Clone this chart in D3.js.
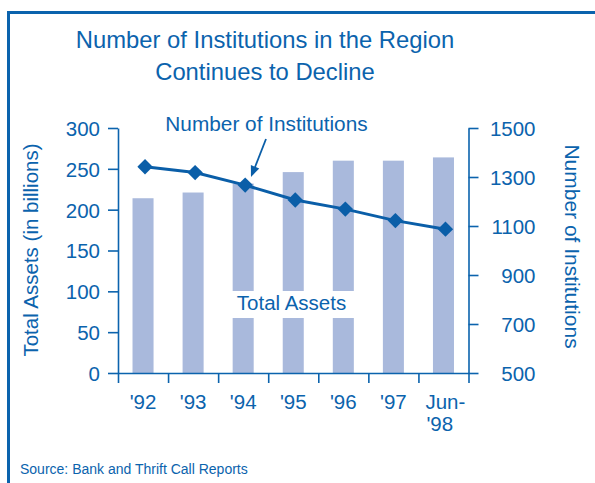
<!DOCTYPE html>
<html><head><meta charset="utf-8">
<script src="https://cdn.jsdelivr.net/npm/d3@7"></script>
<style>
body{margin:0;background:#fff;}
text{font-family:"Liberation Sans",Arial,sans-serif;fill:#0b63ad;}
</style></head>
<body><svg id="c" width="595" height="483"></svg>
<script>
const categories = ["'92","'93","'94","'95","'96","'97","Jun-'98"];
const totalAssets = [214, 221, 232, 246, 260, 260, 264];
const institutions = [1342, 1318, 1267, 1206, 1169, 1122, 1087];
const leftTicks = [0, 50, 100, 150, 200, 250, 300];
const rightTicks = [500, 700, 900, 1100, 1300, 1500];

const blue = "#0b63ad", lineBlue = "#0a5ea8", barColor = "#a9b9dc";
const svg = d3.select("#c");
const L = 118, R = 468.5, T = 128, B = 373;

// frame
svg.append("line").attr("x1",7).attr("x2",595).attr("y1",12.5).attr("y2",12.5).attr("stroke",blue).attr("stroke-width",3);
svg.append("line").attr("x1",8.5).attr("x2",8.5).attr("y1",11).attr("y2",483).attr("stroke",blue).attr("stroke-width",3);

// title
const title = svg.append("text").attr("text-anchor","middle").style("font-size","23.8px");
title.append("tspan").attr("x",265).attr("y",48).text("Number of Institutions in the Region");
title.append("tspan").attr("x",265).attr("y",80).text("Continues to Decline");

const x = d3.scaleBand().domain(categories).range([L,R]).paddingInner(0.58).paddingOuter(0.29);
const xb = d3.scaleLinear().domain([0, categories.length]).range([L,R]);
const yL = d3.scaleLinear().domain([0,300]).range([B,T]);
const yR = d3.scaleLinear().domain([500,1500]).range([B,T]);

// bars
svg.append("g").selectAll("rect").data(categories).join("rect")
  .attr("x", d=>x(d)).attr("width", x.bandwidth())
  .attr("y", (d,i)=>yL(totalAssets[i])).attr("height",(d,i)=>yL(0)-yL(totalAssets[i]))
  .attr("fill", barColor);

// Total Assets label with white background
svg.append("rect").attr("x",230).attr("y",291).attr("width",130).attr("height",27).attr("fill","#fff");
svg.append("text").attr("x",291.5).attr("y",310).attr("text-anchor","middle").style("font-size","20.5px").text("Total Assets");

// axes
function styleAxis(g){
  g.selectAll("path,line").attr("stroke",blue).attr("stroke-width",1.6);
  g.selectAll("text").style("font-size","20.5px").attr("fill",blue).style("font-family","'Liberation Sans',Arial,sans-serif");
}
const gx = svg.append("g").attr("transform",`translate(0,${B})`)
  .call(d3.axisBottom(xb).tickValues(d3.range(categories.length+1)).tickSize(10).tickSizeOuter(0).tickFormat(""));
styleAxis(gx);
const gl = svg.append("g").attr("transform",`translate(${L},0)`)
  .call(d3.axisLeft(yL).tickValues(leftTicks).tickSize(10).tickSizeOuter(0).tickPadding(8).tickFormat(d3.format("d")));
styleAxis(gl);
gl.selectAll("text").attr("dy","0.36em");
const gr = svg.append("g").attr("transform",`translate(${R},0)`)
  .call(d3.axisRight(yR).tickValues(rightTicks).tickSize(10).tickSizeOuter(0).tickFormat(d3.format("d")));
styleAxis(gr);
gr.selectAll("text").attr("text-anchor","end").attr("x",67).attr("dy","0.36em");

// x labels
const xl = svg.append("g").style("font-size","20.5px");
categories.forEach((c,i)=>{
  const cx = x(c) + x.bandwidth()/2;
  if (c.indexOf("Jun-") === 0) {
    const t = xl.append("text").attr("text-anchor","start");
    t.append("tspan").attr("x",cx-18).attr("y",409).text("Jun-");
    t.append("tspan").attr("x",cx-17).attr("y",431).text(c.slice(4));
  } else {
    xl.append("text").attr("x",cx).attr("y",409).attr("text-anchor","middle").text(c);
  }
});

// axis titles
svg.append("text").attr("transform","translate(38,250) rotate(-90)").attr("text-anchor","middle").style("font-size","20.5px").text("Total Assets (in billions)");
svg.append("text").attr("transform","translate(565,246.5) rotate(90)").attr("text-anchor","middle").style("font-size","21px").text("Number of Institutions");

// line
const px = (d,i)=> x(categories[i]) + x.bandwidth()/2 + 2;
const line = d3.line().x((d,i)=>px(d,i)).y(d=>yR(d));
svg.append("path").datum(institutions).attr("d",line).attr("fill","none").attr("stroke",lineBlue).attr("stroke-width",3);
svg.append("g").selectAll("path").data(institutions).join("path")
  .attr("d", d3.symbol(d3.symbolSquare, 118)())
  .attr("transform",(d,i)=>`translate(${px(d,i)},${yR(d)}) rotate(45)`)
  .attr("fill",lineBlue);

// annotation
svg.append("text").attr("x",266.5).attr("y",131).attr("text-anchor","middle").style("font-size","20.8px").text("Number of Institutions");
const ax1=266, ay1=139, ax2=251, ay2=177;
svg.append("line").attr("x1",ax1).attr("y1",ay1).attr("x2",ax2+2.5).attr("y2",ay2-6).attr("stroke",lineBlue).attr("stroke-width",1.8);
const ang = Math.atan2(ay2-ay1, ax2-ax1);
const hl = 11, hw = 4.5;
const bx = ax2 - hl*Math.cos(ang), by = ay2 - hl*Math.sin(ang);
svg.append("path").attr("d",`M${ax2},${ay2}L${bx + hw*Math.sin(ang)},${by - hw*Math.cos(ang)}L${bx - hw*Math.sin(ang)},${by + hw*Math.cos(ang)}Z`).attr("fill",lineBlue);

// source
svg.append("text").attr("x",20).attr("y",473.5).style("font-size","14px").text("Source: Bank and Thrift Call Reports");
</script></body></html>
